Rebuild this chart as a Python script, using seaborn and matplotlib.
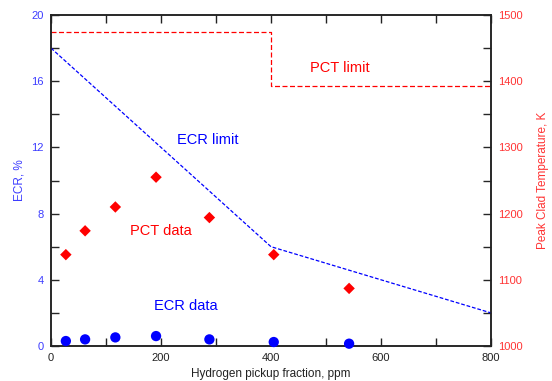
import matplotlib
matplotlib.use("Agg")
import matplotlib.pyplot as plt
import seaborn as sns
import pandas as pd
from matplotlib.ticker import MultipleLocator

sns.set_theme(style="white")
plt.rcParams['font.family'] = ['Liberation Sans', 'DejaVu Sans']

# Data
h_ppm = [27, 62, 117, 191, 288, 405, 542]
ecr_data = [0.30, 0.40, 0.52, 0.60, 0.40, 0.24, 0.14]
pct_data = [1138, 1174, 1210, 1255, 1194, 1138, 1087]

ecr_limit_x = [0, 400, 800]
ecr_limit_y = [18, 6, 2]

pct_limit_x = [0, 400, 400, 800]
pct_limit_y = [1475, 1475, 1393, 1393]

BLUE = "#0000ff"
RED = "#ff0000"
BLUE_T = "#3c3cff"
RED_T = "#ff3333"

fig = plt.figure(figsize=(5.52, 3.81), dpi=100)
ax = fig.add_axes([51/552, 1-346/381, 440/552, 331/381])
ax2 = ax.twinx()

df_ecr = pd.DataFrame({"x": h_ppm, "y": ecr_data})
df_pct = pd.DataFrame({"x": h_ppm, "y": pct_data})
df_el = pd.DataFrame({"x": ecr_limit_x, "y": ecr_limit_y})

sns.lineplot(data=df_el, x="x", y="y", ax=ax, color=BLUE, linewidth=0.9,
             linestyle=(0, (3, 1.5)), sort=False, zorder=2)
sns.scatterplot(data=df_ecr, x="x", y="y", ax=ax, color=BLUE, s=55,
                marker="o", edgecolor="none", zorder=4, clip_on=False)

ax2.plot(pct_limit_x, pct_limit_y, color=RED, linewidth=0.9,
         linestyle=(0, (4, 2)), zorder=2)
sns.scatterplot(data=df_pct, x="x", y="y", ax=ax2, color=RED, s=34,
                marker="D", edgecolor="none", zorder=4)

ax.set_xlim(0, 800)
ax.set_ylim(0, 20)
ax2.set_ylim(1000, 1500)

ax.xaxis.set_major_locator(MultipleLocator(200))
ax.xaxis.set_minor_locator(MultipleLocator(100))
ax.yaxis.set_major_locator(MultipleLocator(4))
ax.yaxis.set_minor_locator(MultipleLocator(2))
ax2.yaxis.set_major_locator(MultipleLocator(100))
ax2.yaxis.set_minor_locator(MultipleLocator(50))

for a in (ax, ax2):
    for s in a.spines.values():
        s.set_color("#222222")
        s.set_linewidth(1.1)

ax.tick_params(axis="x", which="both", direction="in", length=5.5, width=1,
               top=True, bottom=True, labelsize=8, colors="#222222", pad=5)
ax.tick_params(axis="y", which="both", direction="in", length=5.5, width=1,
               left=True, right=False, labelsize=8, pad=5)
ax.tick_params(axis="y", labelcolor=BLUE_T)
ax2.tick_params(axis="y", which="both", direction="in", length=5.5, width=1,
                right=True, left=False, labelsize=8, pad=5)
ax2.tick_params(axis="y", labelcolor=RED_T)

ax.set_xlabel("Hydrogen pickup fraction, ppm", fontsize=8.5, color="#222222", labelpad=4)
ax.set_ylabel("ECR, %", fontsize=8.5, color=BLUE_T, labelpad=4)
ax2.set_ylabel("Peak Clad Temperature, K", fontsize=8.5, color=RED_T, labelpad=10)

ax.text(285, 12.45, "ECR limit", color=BLUE, fontsize=10.5, ha="center", va="center")
ax.text(525, 16.8, "PCT limit", color=RED, fontsize=10.5, ha="center", va="center")
ax.text(200, 6.95, "PCT data", color=RED, fontsize=10.5, ha="center", va="center")
ax.text(245, 2.43, "ECR data", color=BLUE, fontsize=10.5, ha="center", va="center")

ax.set_zorder(ax2.get_zorder() + 1)
ax.patch.set_visible(False)

fig.savefig("out.png", dpi=100)
